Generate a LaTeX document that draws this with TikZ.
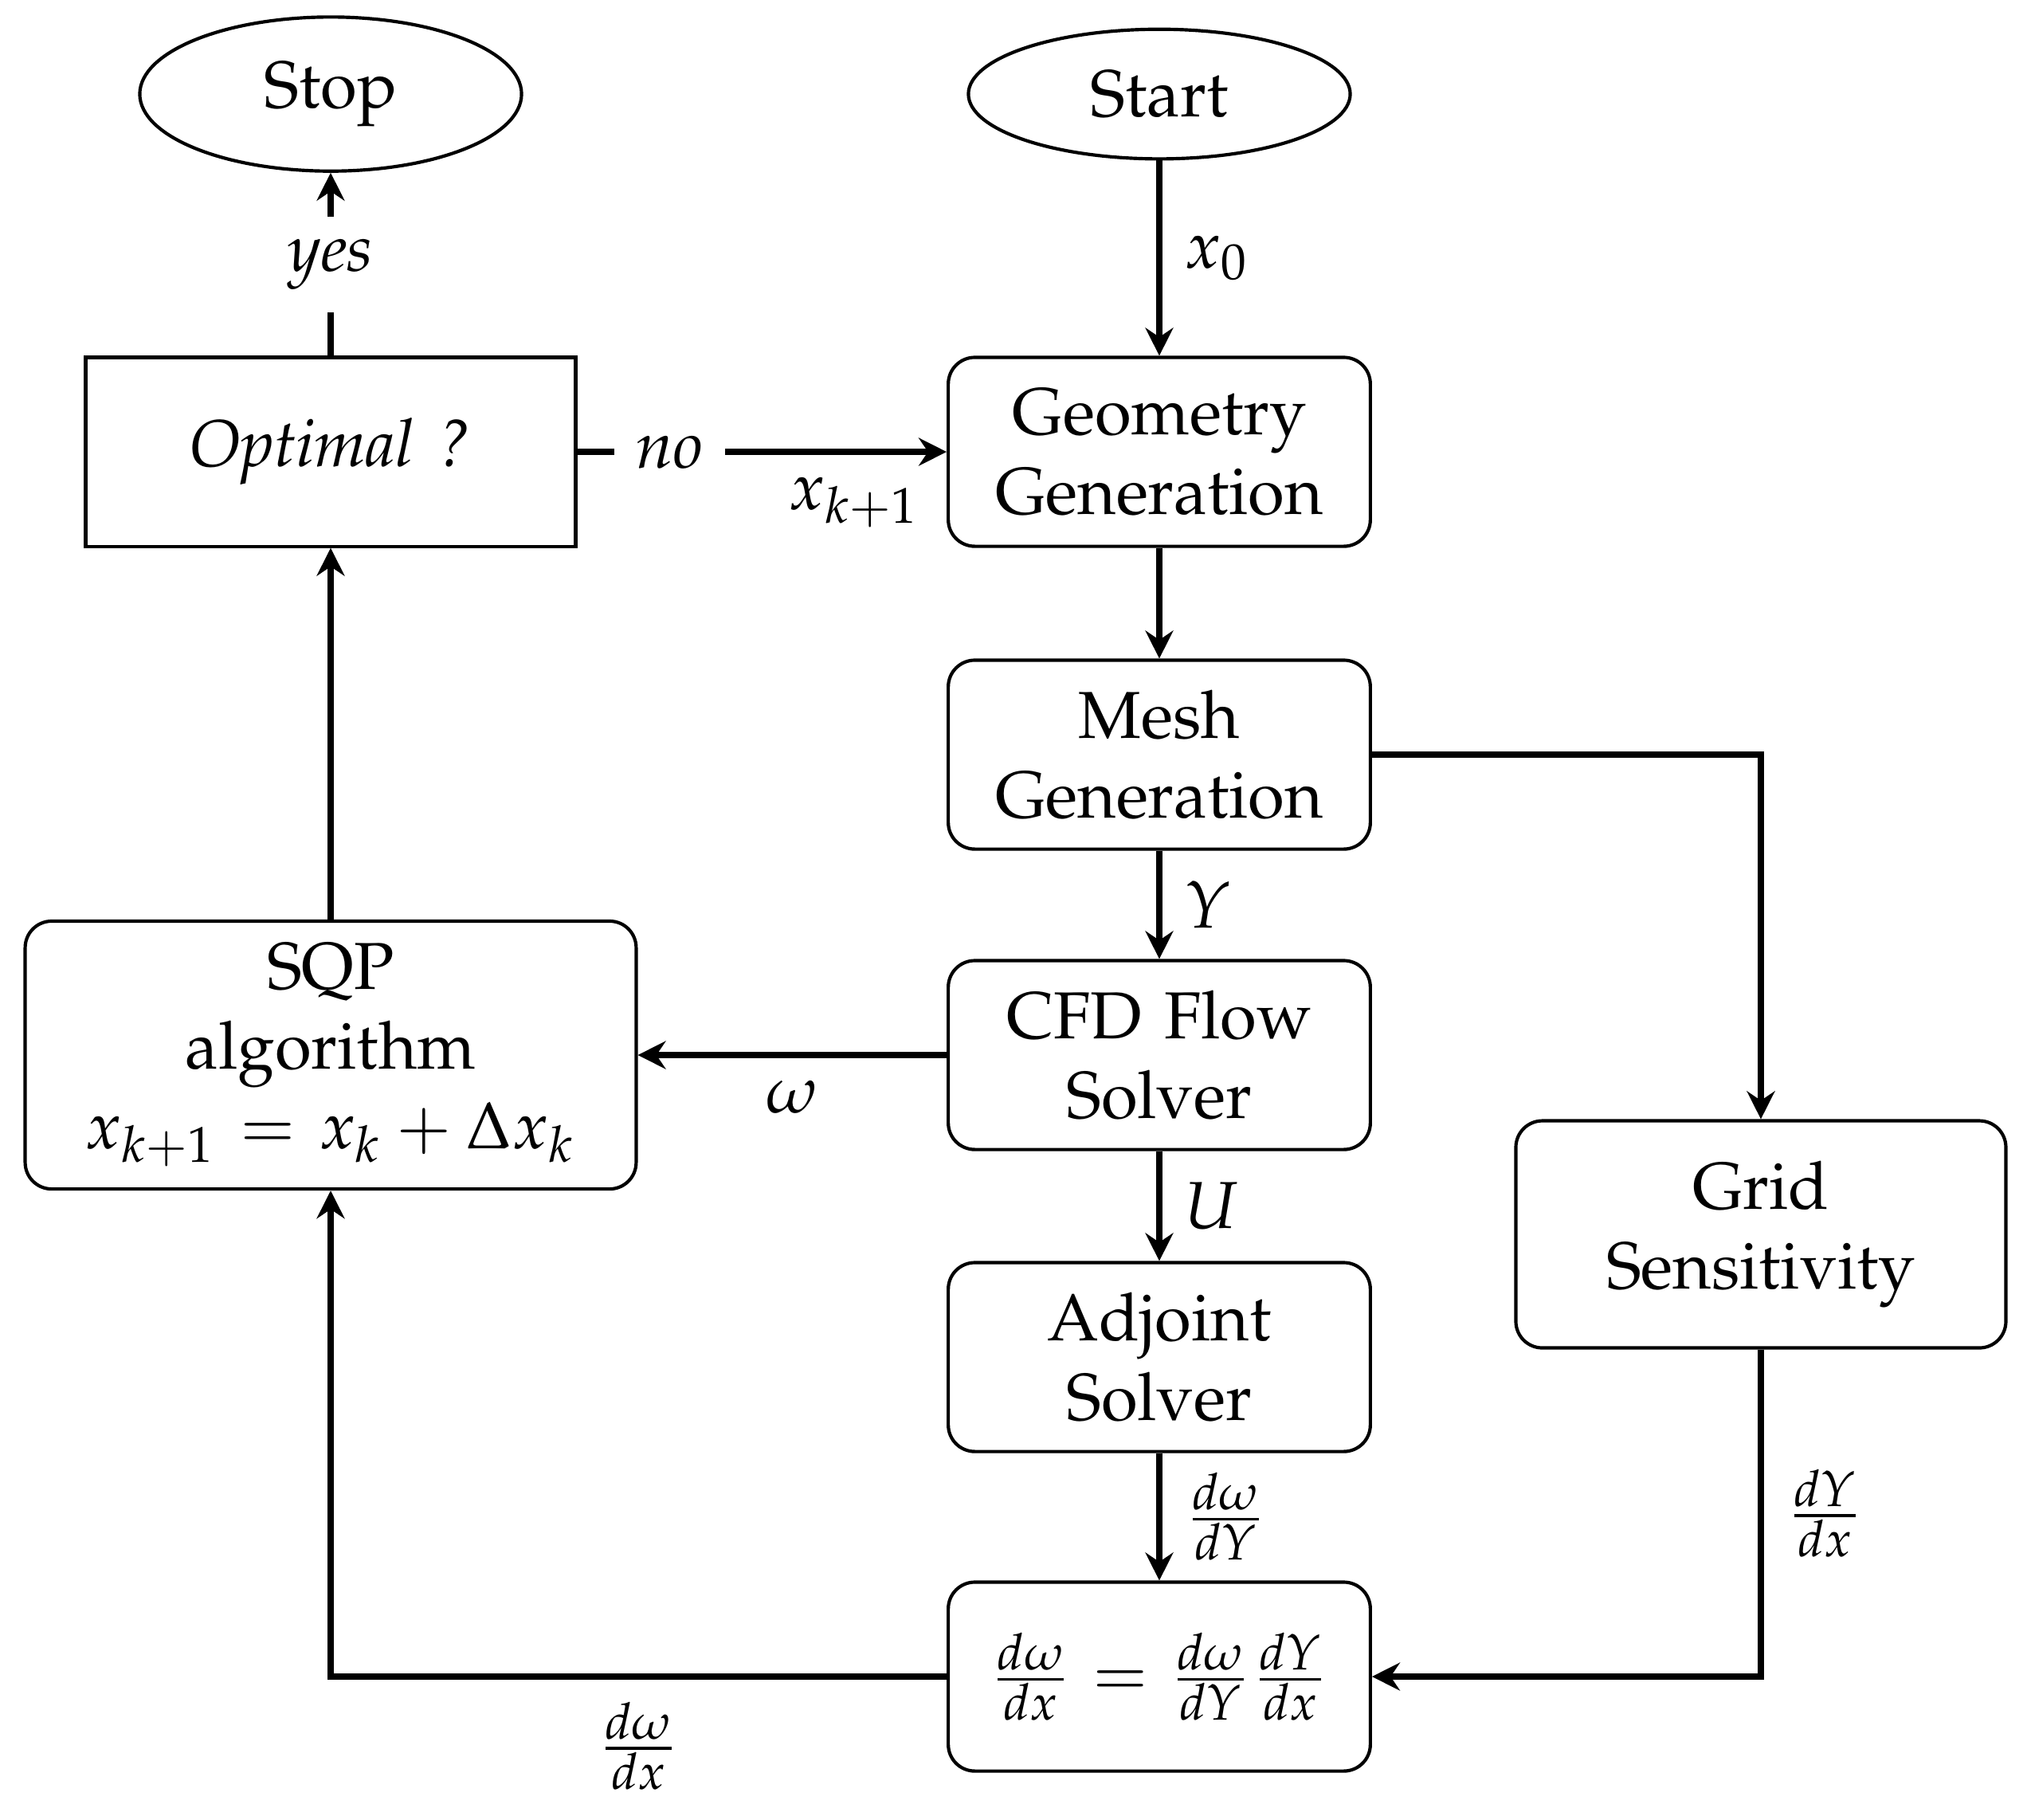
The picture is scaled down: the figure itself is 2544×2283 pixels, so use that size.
\documentclass[tikz,border=0pt]{standalone}
\usepackage[T1]{fontenc}
\usepackage{mathpazo}
\usetikzlibrary{shapes.geometric,arrows.meta}
\tikzset{
  term/.style={ellipse, draw, line width=0.5pt, minimum width=57.5pt, inner sep=3.33pt},
  proc/.style={rectangle, rounded corners=4pt, draw, line width=0.5pt, minimum width=63.5pt, minimum height=28.45pt, text width=2cm, align=center, inner sep=3.33pt},
  decision/.style={rectangle, draw, line width=0.5pt, minimum width=73.8pt, minimum height=28.45pt, align=center},
  conn/.style={line width=1pt, -{Stealth[length=4.2pt,width=4.2pt,inset=1.4pt]}},
  plain/.style={line width=1pt}
}
\begin{document}
\begin{tikzpicture}[x=0.12pt,y=-0.12pt]
\useasboundingbox (0,0) rectangle (2544,2283);
\node[term] (stop) at (415,118) {Stop};
\node[term] (start) at (1455,118) {Start};
\node[decision] (opt) at (415,567) {\textit{Optimal\hspace{0.12em} ?}};
\node[proc] (geo) at (1455,567) {Geometry\\Generation};
\node[proc] (mesh) at (1455,947) {Mesh\\Generation};
\node[proc] (cfd) at (1455,1324) {CFD Flow\\Solver};
\node[proc] (adj) at (1455,1703) {Adjoint\\Solver};
\node[proc] (chain) at (1455,2104) {$\frac{d\omega}{dx} = \frac{d\omega}{dY}\frac{dY}{dx}$};
\node[proc, text width=3cm] (sqp) at (415,1324) {SQP\\algorithm\\$x_{k+1} = x_k + \Delta x_k$};
\node[proc, minimum width=73.8pt, minimum height=34.2pt] (grid) at (2210,1549) {Grid\\Sensitivity};

\draw[conn] (start) -- node[right]{$x_0$} (geo);
\draw[conn] (geo) -- (mesh);
\draw[conn] (mesh) -- node[right]{$Y$} (cfd);
\draw[conn] (cfd) -- node[right]{$U$} (adj);
\draw[conn] (adj) -- node[right]{$\frac{d\omega}{dY}$} (chain);
\draw[conn] (mesh.east) -| (grid.north);
\draw[conn] (grid.south) |- node[pos=0.25,right]{$\frac{dY}{dx}$} (chain.east);
\draw[conn] (chain.west) -| node[pos=0.25,below]{$\frac{d\omega}{dx}$} (sqp.south);
\draw[conn] (cfd.west) -- node[below]{$\omega$} (sqp.east);
\draw[conn] (sqp) -- (opt);
\draw[conn] (opt) -- node[pos=0.25,fill=white]{\textit{no}} node[pos=0.75,below]{$x_{k+1}$} (geo);
\draw[conn] (opt) -- node[fill=white]{\textit{yes}} (stop);
\end{tikzpicture}
\end{document}
